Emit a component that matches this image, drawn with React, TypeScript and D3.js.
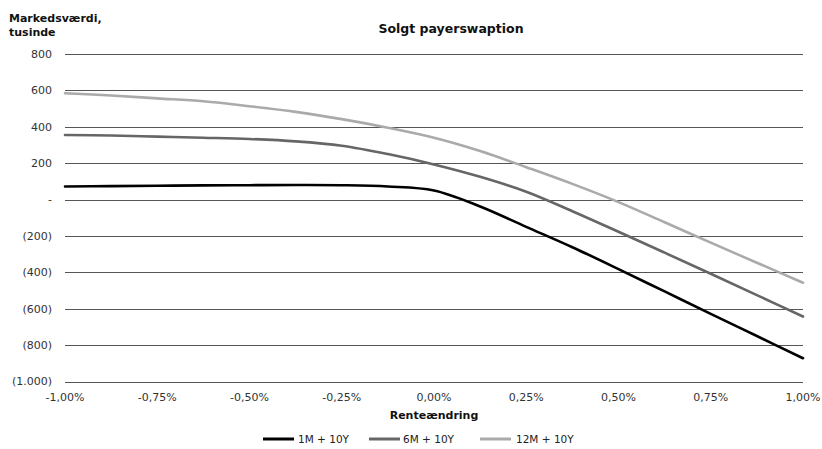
import React from "react";
import * as d3 from "d3";

const xValues = [-1.0, -0.875, -0.75, -0.625, -0.5, -0.375, -0.25, -0.125, 0.0, 0.125, 0.25, 0.375, 0.5, 0.625, 0.75, 0.875, 1.0];
const series1M = [72, 74, 76, 78, 79, 80, 79, 72, 50, -38, -150, -262, -382, -505, -628, -750, -872];
const series6M = [355, 352, 346, 340, 333, 320, 296, 250, 193, 125, 43, -64, -177, -292, -408, -525, -643];
const series12M = [584, 572, 556, 540, 513, 482, 442, 395, 340, 267, 178, 86, -14, -125, -237, -347, -457];
const seriesNames = ["1M + 10Y", "6M + 10Y", "12M + 10Y"];
const seriesColors = ["#000000", "#666666", "#aaaaaa"];
const yTicks = [800, 600, 400, 200, 0, -200, -400, -600, -800, -1000];
const xTicks = [-1.0, -0.75, -0.5, -0.25, 0.0, 0.25, 0.5, 0.75, 1.0];

const W = 822;
const H = 449;
const FONT = "'DejaVu Sans', Verdana, sans-serif";

const x = d3.scaleLinear().domain([-1, 1]).range([65, 803]);
const y = d3.scaleLinear().domain([-1000, 800]).range([381.5, 54]);

const fmtThousands = (v: number) => d3.format(",")(v).replace(/,/g, ".");
const fmtY = (v: number) => (v === 0 ? "-" : v < 0 ? `(${fmtThousands(-v)})` : fmtThousands(v));
const fmtX = (v: number) => v.toFixed(2).replace(".", ",") + "%";

export default function App() {
  const allSeries = [series1M, series6M, series12M];
  const line = d3
    .line<number>()
    .x((_, i) => x(xValues[i]))
    .y((d) => y(d))
    .curve(d3.curveCatmullRom.alpha(0.5));

  const legendItems = [
    { lx: 263, tx: 298 },
    { lx: 369, tx: 403 },
    { lx: 480, tx: 516 },
  ];

  return (
    <div style={{ position: "fixed", left: 0, top: 0 }}>
      <svg width={W} height={H} style={{ display: "block", background: "#fff" }} fontFamily={FONT}>
        <text x={451} y={33} textAnchor="middle" fontSize={12.5} fontWeight="bold" fill="#111">
          Solgt payerswaption
        </text>
        <text x={9} y={22} fontSize={11} fontWeight="bold" fill="#111">Markedsværdi,</text>
        <text x={9} y={36} fontSize={11} fontWeight="bold" fill="#111">tusinde</text>

        {yTicks.map((t) => (
          <g key={t}>
            <line x1={x(-1)} x2={x(1)} y1={Math.round(y(t)) + 0.5} y2={Math.round(y(t)) + 0.5} stroke="#555" strokeWidth={1.2} />
            <text x={52} y={y(t)} dy="0.35em" textAnchor="end" fontSize={11} fill="#333">
              {fmtY(t)}
            </text>
          </g>
        ))}

        {xTicks.map((t) => (
          <text key={t} x={x(t)} y={401} textAnchor="middle" fontSize={11} fill="#333">
            {fmtX(t)}
          </text>
        ))}

        <text x={434} y={419} textAnchor="middle" fontSize={11} fontWeight="bold" fill="#111">
          Renteændring
        </text>

        {allSeries.map((s, i) => (
          <path key={i} d={line(s) || ""} fill="none" stroke={seriesColors[i]} strokeWidth={2.6} strokeLinejoin="round" strokeLinecap="round" />
        ))}

        {seriesNames.map((name, i) => (
          <g key={name}>
            <line x1={legendItems[i].lx} x2={legendItems[i].lx + 31} y1={439} y2={439} stroke={seriesColors[i]} strokeWidth={3} />
            <text x={legendItems[i].tx} y={439} dy="0.35em" fontSize={10.5} fill="#222">
              {name}
            </text>
          </g>
        ))}
      </svg>
    </div>
  );
}
